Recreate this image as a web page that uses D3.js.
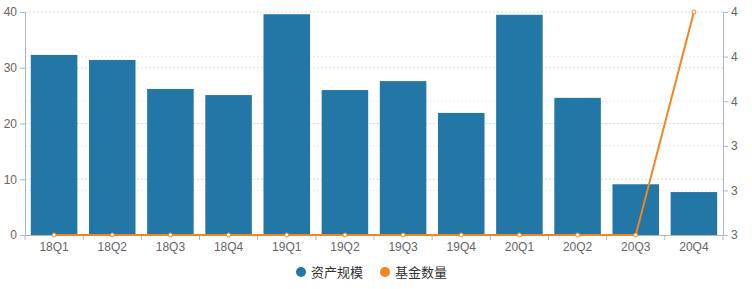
<!DOCTYPE html>
<html>
<head>
<meta charset="utf-8">
<script src="https://cdn.jsdelivr.net/npm/d3@7"></script>
<style>
  body { margin: 0; background: #fff; }
  svg { font-family: "Noto Sans CJK SC", "Noto Sans", sans-serif; }
</style>
</head>
<body>
<div id="my-chart"></div>
<script>
const quarters = ['18Q1', '18Q2', '18Q3', '18Q4', '19Q1', '19Q2', '19Q3', '19Q4', '20Q1', '20Q2', '20Q3', '20Q4'];
const assetSize = [32.3, 31.4, 26.2, 25.1, 39.6, 26.0, 27.6, 21.9, 39.5, 24.6, 9.1, 7.7];
const fundCount = [3, 3, 3, 3, 3, 3, 3, 3, 3, 3, 3, 4];
const leftTicks = [0, 10, 20, 30, 40];
const rightTicks = [3, 3.2, 3.4, 3.6, 3.8, 4];
const seriesNames = ['资产规模', '基金数量'];

const barColor = '#2277a6';
const lineColor = '#f5831f';

let chartDims = { width: 752, height: 289, left: 25, right: 29, top: 12, bottom: 54 };

let svg = d3.select("#my-chart")
    .append("svg")
    .attr("width", chartDims.width)
    .attr("height", chartDims.height);

let innerW = chartDims.width - chartDims.left - chartDims.right;
let innerH = chartDims.height - chartDims.top - chartDims.bottom;

let g = svg.append("g")
    .attr("transform", "translate(" + chartDims.left + "," + chartDims.top + ")");

let xAxis = d3.scaleBand()
    .domain(quarters)
    .range([0, innerW])
    .paddingInner(0.2)
    .paddingOuter(0.1);

let yLeft = d3.scaleLinear().domain([0, 40]).range([innerH, 0]);
let yRight = d3.scaleLinear().domain([3, 4]).range([innerH, 0]);

// dotted grid lines from both axes
g.append("g")
    .selectAll("line")
    .data(leftTicks.slice(1))
    .enter()
    .append("line")
    .attr("x1", 0).attr("x2", innerW)
    .attr("y1", d => yLeft(d)).attr("y2", d => yLeft(d))
    .attr("stroke", "#d9d9d9")
    .attr("stroke-dasharray", "2,2");
g.append("g")
    .selectAll("line")
    .data(rightTicks.slice(1, -1))
    .enter()
    .append("line")
    .attr("x1", 0).attr("x2", innerW)
    .attr("y1", d => yRight(d)).attr("y2", d => yRight(d))
    .attr("stroke", "#ececec")
    .attr("stroke-dasharray", "2,2");

// bars
g.append("g")
    .selectAll("rect")
    .data(quarters)
    .enter()
    .append("rect")
    .attr("x", d => xAxis(d))
    .attr("width", xAxis.bandwidth())
    .attr("y", (d, i) => yLeft(assetSize[i]))
    .attr("height", (d, i) => innerH - yLeft(assetSize[i]))
    .attr("fill", barColor);

// x axis
let xg = g.append("g")
    .attr("transform", "translate(0," + innerH + ")")
    .call(d3.axisBottom(xAxis).tickSize(0).tickPadding(7));
xg.select(".domain").attr("stroke", "#b0b6c3");
xg.selectAll("text").attr("fill", "#666").style("font-size", "12px");
// ticks at band boundaries
let step = xAxis.step();
xg.selectAll(".bound")
    .data(d3.range(quarters.length + 1))
    .enter()
    .append("line")
    .attr("x1", i => i * step).attr("x2", i => i * step)
    .attr("y1", 0).attr("y2", 5)
    .attr("stroke", "#b0b6c3");

// left axis
let lg = g.append("g")
    .call(d3.axisLeft(yLeft).tickValues(leftTicks).tickSize(5).tickPadding(3));
lg.select(".domain").attr("stroke", "#b0b6c3");
lg.selectAll(".tick line").attr("stroke", "#b0b6c3");
lg.selectAll("text").attr("fill", "#666").style("font-size", "12px");

// right axis
let rg = g.append("g")
    .attr("transform", "translate(" + innerW + ",0)")
    .call(d3.axisRight(yRight).tickValues(rightTicks).tickSize(5).tickPadding(3)
        .tickFormat(d => Math.round(d)));
rg.select(".domain").attr("stroke", "#b0b6c3");
rg.selectAll(".tick line").attr("stroke", "#b0b6c3");
rg.selectAll("text").attr("fill", "#666").style("font-size", "12px");

// line
let cx = d => xAxis(d) + xAxis.bandwidth() / 2;
g.append("path")
    .datum(quarters)
    .attr("fill", "none")
    .attr("stroke", lineColor)
    .attr("stroke-width", 2)
    .attr("d", d3.line()
        .x(d => cx(d))
        .y((d, i) => yRight(fundCount[i])));
g.append("g")
    .selectAll("circle")
    .data(quarters)
    .enter()
    .append("circle")
    .attr("cx", d => cx(d))
    .attr("cy", (d, i) => yRight(fundCount[i]))
    .attr("r", 2)
    .attr("fill", "#fff")
    .attr("stroke", lineColor)
    .attr("stroke-width", 1);

// legend
let legend = svg.append("g").attr("transform", "translate(301,272)");
let colors = [barColor, lineColor];
let offsets = [0, 84];
seriesNames.forEach(function (name, i) {
    legend.append("circle")
        .attr("cx", offsets[i]).attr("cy", 0).attr("r", 5)
        .attr("fill", colors[i]);
    legend.append("text")
        .attr("x", offsets[i] + 10).attr("y", 0)
        .attr("dy", "0.35em")
        .attr("fill", "#333")
        .style("font-size", "13px")
        .text(name);
});
</script>
</body>
</html>
